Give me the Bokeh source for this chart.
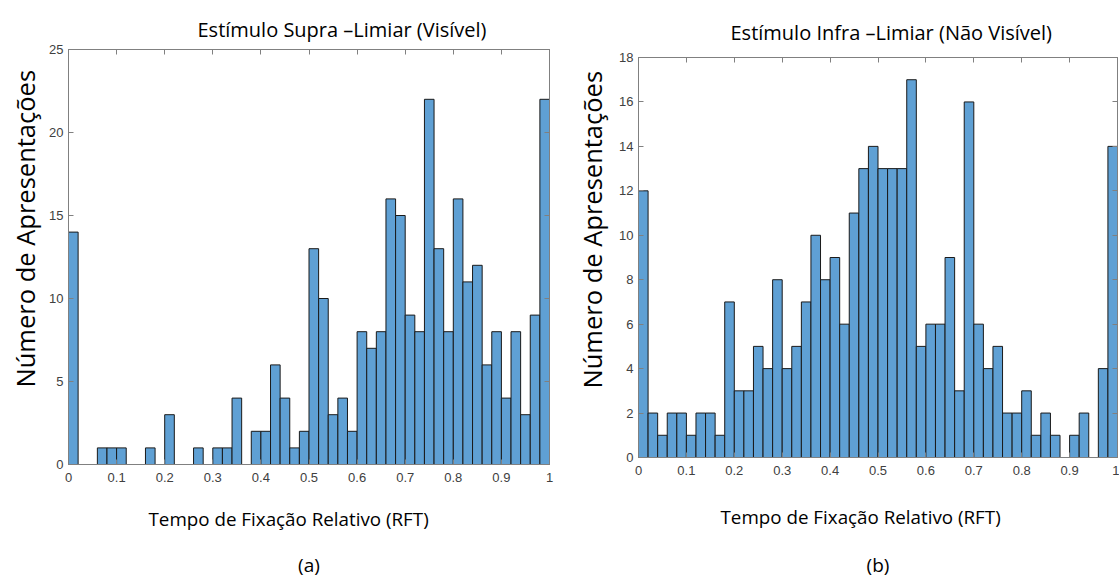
from bokeh.plotting import figure
from bokeh.models import (Range1d, LinearAxis, FixedTicker, NumeralTickFormatter, Title,
                          CustomJSTickFormatter)
from bokeh.layouts import row, column
from bokeh.embed import file_html
from bokeh.resources import INLINE

# ---- data ----
n_bins = 50
bin_edges = [i / n_bins for i in range(n_bins + 1)]

counts_supra = [14, 0, 0, 1, 1, 1, 0, 0, 1, 0,
                3, 0, 0, 1, 0, 1, 1, 4, 0, 2,
                2, 6, 4, 1, 2, 13, 10, 3, 4, 2,
                8, 7, 8, 16, 15, 9, 8, 22, 13, 8,
                16, 11, 12, 6, 8, 4, 8, 3, 9, 22]

counts_infra = [12, 2, 1, 2, 2, 1, 2, 2, 1, 7,
                3, 3, 5, 4, 8, 4, 5, 7, 10, 8,
                9, 6, 11, 13, 14, 13, 13, 13, 17, 5,
                6, 6, 9, 3, 16, 6, 4, 5, 2, 2,
                3, 1, 2, 1, 0, 1, 2, 0, 4, 14]

x_ticks = [0, 0.1, 0.2, 0.3, 0.4, 0.5, 0.6, 0.7, 0.8, 0.9, 1]
y_ticks_supra = [0, 5, 10, 15, 20, 25]
y_ticks_infra = [0, 2, 4, 6, 8, 10, 12, 14, 16, 18]

title_supra = "Estímulo Supra –Limiar (Visível)"
title_infra = "Estímulo Infra –Limiar (Não Visível)"
x_label = "Tempo de Fixação Relativo (RFT)"
y_label = "Número de Apresentações"
tag_supra = "(a)"
tag_infra = "(b)"

BAR_FILL = "#5fa0d4"
BAR_EDGE = "#1a1a1a"
FRAME = "#808080"
TICK_TXT = "#404040"
LABEL_FONT = "Open Sans"
TICK_FONT = "Liberation Sans"


def style_axis(ax, ticks, show_labels=True, standoff=5):
    ax.ticker = FixedTicker(ticks=ticks)
    ax.axis_line_color = FRAME
    ax.major_tick_line_color = FRAME
    ax.major_tick_in = 5
    ax.major_tick_out = 0
    ax.minor_tick_line_color = None
    ax.major_label_text_font = TICK_FONT
    ax.major_label_text_font_size = "13px"
    ax.major_label_text_color = TICK_TXT
    if show_labels:
        ax.major_label_standoff = standoff
        ax.formatter = NumeralTickFormatter(format="0.[0]")
    else:
        ax.major_label_standoff = 0
        ax.formatter = CustomJSTickFormatter(code="return ''")


def panel(counts, y_ticks, ymax, title, tag, width, height, borders, offs, stand):
    left, right, top, bottom = borders
    p = figure(width=width, height=height, output_backend="svg", toolbar_location=None,
               x_range=Range1d(0, 1), y_range=Range1d(0, ymax),
               min_border_left=left, min_border_right=right,
               min_border_top=top, min_border_bottom=bottom)
    p.grid.visible = False
    p.outline_line_color = FRAME
    p.background_fill_color = "white"
    p.border_fill_color = "white"

    p.quad(left=bin_edges[:-1], right=bin_edges[1:], bottom=0, top=counts,
           fill_color=BAR_FILL, line_color=BAR_EDGE, line_width=1)

    style_axis(p.xaxis[0], x_ticks, standoff=8)
    style_axis(p.yaxis[0], y_ticks, standoff=5)

    top_ax = LinearAxis()
    style_axis(top_ax, x_ticks, show_labels=False)
    p.add_layout(top_ax, "above")
    right_ax = LinearAxis()
    style_axis(right_ax, y_ticks, show_labels=False)
    p.add_layout(right_ax, "right")

    t_off, xl_off, yl_off = offs
    t_st, xl_st, tag_st, yl_st = stand
    p.title = Title(text=title, text_font=LABEL_FONT, text_font_size="20px",
                    text_color="black", text_font_style="normal", align="left",
                    vertical_align="top", offset=t_off, standoff=t_st)
    # y label (outside the y tick labels)
    p.add_layout(Title(text=y_label, text_font=LABEL_FONT, text_font_size="25.5px",
                       text_color="black", text_font_style="normal", align="left",
                       offset=yl_off, standoff=yl_st), "left")
    # x label
    p.add_layout(Title(text=x_label, text_font=LABEL_FONT, text_font_size="18.8px",
                       text_color="black", text_font_style="normal", align="left",
                       offset=xl_off, standoff=xl_st), "below")
    # panel tag, centred under the frame
    tag_ax = LinearAxis(ticker=FixedTicker(ticks=[]), axis_line_color=None,
                        major_tick_line_color=None, minor_tick_line_color=None,
                        major_label_standoff=0, axis_label=tag,
                        axis_label_text_font=LABEL_FONT, axis_label_text_font_size="19px",
                        axis_label_text_font_style="normal", axis_label_text_color="black",
                        axis_label_standoff=tag_st)
    tag_ax.formatter = CustomJSTickFormatter(code="return ''")
    p.add_layout(tag_ax, "below")
    return p


p1 = panel(counts_supra, y_ticks_supra, 25, title_supra, tag_supra,
           560, 580, (68, 11, 49, 116), (129, 80, 77), (9, 39, 0, 10))
p2 = panel(counts_infra, y_ticks_infra, 18, title_infra, tag_infra,
           559, 580, (78, 2, 57, 123), (92, 82, 69), (20, 48, -2, 16))

layout = row(column(p1), column(p2), spacing=0)
open("out.html", "w").write(file_html(layout, INLINE))
